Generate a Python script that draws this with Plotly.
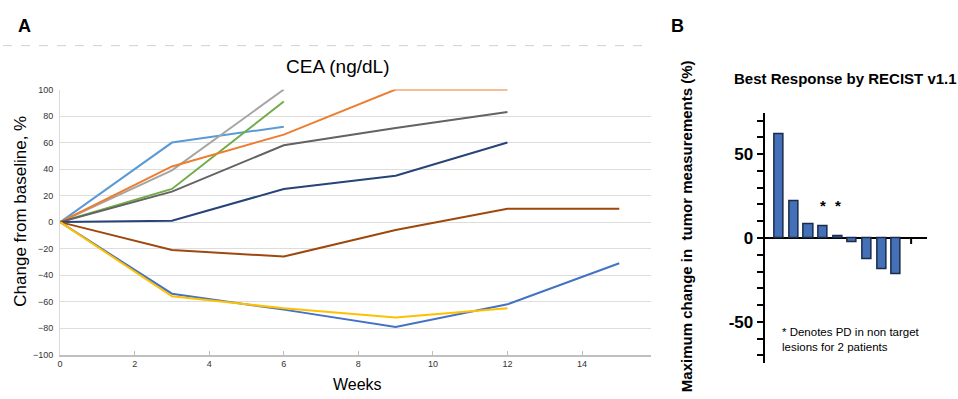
import plotly.graph_objects as go

W, H = 958, 399

# ---------------- Panel A data (CEA % change from baseline) ----------------
weeks = [0, 3, 6, 9, 12, 15]
cea_light_blue = [0, 60, 72]
cea_grey = [0, 39, 100]
cea_green = [0, 25, 91]
cea_orange = [0, 42, 66, 100, 100]
cea_dark_grey = [0, 23, 58, 71, 83]
cea_navy = [0, 1, 25, 35, 60]
cea_brown = [0, -21, -26, -6, 10, 10]
cea_blue = [0, -54, -66, -79, -62, -31]
cea_yellow = [0, -56, -65, -72, -65]
a_x_ticks = [0, 2, 4, 6, 8, 10, 12, 14]
a_y_ticks = [-100, -80, -60, -40, -20, 0, 20, 40, 60, 80, 100]

# ---------------- Panel B data (best response, RECIST v1.1) ----------------
patients = [1, 2, 3, 4, 5, 6, 7, 8, 9]
best_response = [62, 22, 8, 7, 1, -2.5, -12.6, -18.6, -21.5]
star_patients = [4, 5]
b_y_ticks = [-70, -60, -50, -40, -30, -20, -10, 0, 10, 20, 30, 40, 50, 60, 70]
b_y_labels = ["", "", "-50", "", "", "", "", "0", "", "", "", "", "50", "", ""]


def fx(p):
    return p / W


def fy(p):
    return 1 - p / H


fig = go.Figure()

series = [
    (cea_light_blue, "#5B9BD5"),
    (cea_grey, "#A5A5A5"),
    (cea_green, "#70AD47"),
    (cea_orange, "#ED7D31"),
    (cea_dark_grey, "#636363"),
    (cea_navy, "#264478"),
    (cea_brown, "#9E480E"),
    (cea_blue, "#4472C4"),
    (cea_yellow, "#FFC000"),
]
for vals, col in series:
    fig.add_trace(go.Scatter(
        x=weeks[:len(vals)], y=vals, mode="lines",
        line=dict(color=col, width=2), xaxis="x", yaxis="y",
        showlegend=False, hoverinfo="skip"))

fig.add_trace(go.Bar(
    x=patients, y=best_response, width=0.62,
    marker=dict(color="#4470B8", line=dict(color="#1B2A4A", width=1.5)),
    xaxis="x2", yaxis="y2", showlegend=False, hoverinfo="skip"))

tick_font = dict(family="Liberation Sans, Arial", size=9, color="#333333")

fig.update_layout(
    width=W, height=H,
    margin=dict(l=0, r=0, t=0, b=0),
    paper_bgcolor="white", plot_bgcolor="white",
    bargap=0,
    xaxis=dict(
        domain=[fx(57.3), fx(650)], range=[0, 15.85],
        tickvals=a_x_ticks, showgrid=False, zeroline=False,
        showline=True, linecolor="#BFBFBF", linewidth=1.5,
        ticks="inside", ticklen=4, tickcolor="#BFBFBF",
        tickfont=tick_font, anchor="y"),
    yaxis=dict(
        domain=[fy(358.7), fy(86.7)], range=[-100, 100],
        tickvals=a_y_ticks, showgrid=True, gridcolor="#DDDDDD", gridwidth=1,
        zeroline=False, showline=True, linecolor="#D9D9D9",
        ticks="", tickfont=tick_font, anchor="x", ticklabelstandoff=4),
    xaxis2=dict(
        domain=[fx(764), fx(927)], range=[0, 11.09],
        showticklabels=False, showgrid=False, showline=False,
        zeroline=False, ticks="", anchor="y2"),
    yaxis2=dict(
        domain=[fy(366.7), fy(111)], range=[-74.2, 74.4],
        tickvals=b_y_ticks, ticktext=b_y_labels,
        ticks="outside", ticklen=6, tickwidth=2, tickcolor="black",
        showline=True, linewidth=2, linecolor="black",
        zeroline=True, zerolinewidth=2, zerolinecolor="black",
        showgrid=False, anchor="x2",
        tickfont=dict(family="Liberation Sans, Arial", size=17, color="black", weight="bold")),
)

# end tick on the panel-B x axis
fig.add_shape(type="line", xref="x2", yref="y2",
              x0=len(patients) + 1, x1=len(patients) + 1, y0=0, y1=-3.6,
              line=dict(color="black", width=2))

# dashed separator under "A"
fig.add_shape(type="line", xref="paper", yref="paper",
              x0=0, x1=fx(650), y0=fy(41.7), y1=fy(41.7),
              line=dict(color="#D0D0D0", width=1, dash="dash"))

FONT = "Liberation Sans, Arial"


def label(text, x, y, size, angle=0, xanchor="center"):
    return dict(text=text, x=fx(x), y=fy(y), xref="paper", yref="paper",
                xanchor=xanchor, yanchor="middle", showarrow=False,
                textangle=angle, font=dict(family=FONT, size=size, color="black"))


ann = [
    label("<b>A</b>", 22, 22, 18),
    label("<b>B</b>", 677, 22, 18),
    label("CEA (ng/dL)", 336, 63, 19),
    label("Change from baseline, %", 18, 211, 17, angle=-90),
    label("Weeks", 356, 389, 16),
    label("<b>Best Response by RECIST v1.1</b>", 845, 75, 15),
    label("<b>Maximum change in  tumor measurements (%)</b>", 685, 227, 15, angle=-90),
]
for p in star_patients:
    ann.append(dict(text="<b>*</b>", x=p, y=19.5, xref="x2", yref="y2", showarrow=False,
                    xanchor="center", yanchor="middle",
                    font=dict(family=FONT, size=15, color="black")))
note = label("* Denotes PD in non target<br>lesions for 2 patients", 779, 343, 11.5,
             xanchor="left")
note["align"] = "left"
ann.append(note)
fig.update_layout(annotations=ann)

# drop the browser's default 8px body margin so the figure fills the window
fig.write_html("out.html",
               config={"displayModeBar": False},
               post_script="document.body.style.margin='0';document.body.style.overflow='hidden';")
